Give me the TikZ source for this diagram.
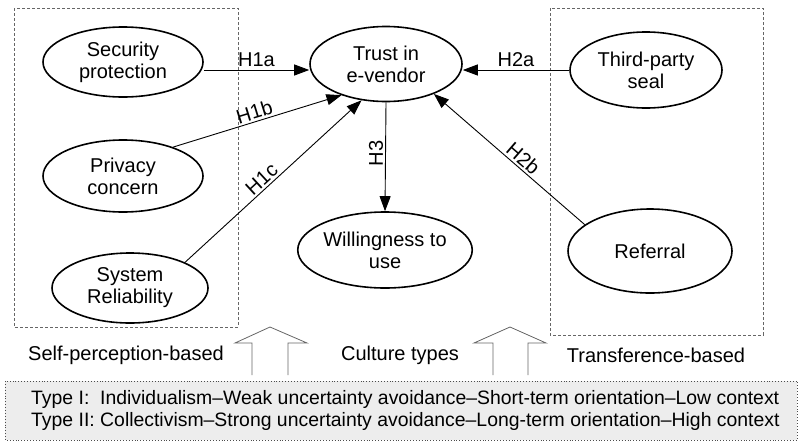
\documentclass[tikz,border=0pt]{standalone}
\usepackage{fontspec}
\setmainfont{Liberation Sans}
\usetikzlibrary{arrows.meta,shapes.geometric}
\begin{document}
\begin{tikzpicture}[x=1pt,y=-1pt,
  font=\fontsize{20}{22}\selectfont,
  ell/.style={draw,line width=1.6pt,ellipse,minimum width=#1,align=center,inner sep=0pt},
  ell/.default=155,
  arr/.style={line width=0.9pt,-{Triangle[length=15pt,width=11pt]}},
  grp/.style={draw=black!60,dashed,dash pattern=on 3pt off 2pt,line width=0.8pt},
  blk/.style={draw=black!60,line width=0.8pt,fill=white}]
\useasboundingbox (0,0) rectangle (802,442);
% groups
\draw[grp] (14,8) rectangle (238,327);
\draw[grp] (550,8) rectangle (763,335);
% nodes
\node[ell=160,minimum height=70] (sec) at (123,62) {Security\\protection};
\node[ell=160,minimum height=72] (priv) at (123,176) {Privacy\\concern};
\node[ell=156,minimum height=70] (sys) at (130,288) {System\\Reliability};
\node[ell=152,minimum height=75] (trust) at (386,64) {Trust in\\e-vendor};
\node[ell=156,minimum height=76] (will) at (385,250) {Willingness to\\use};
\node[ell=152,minimum height=76] (seal) at (646,70) {Third-party\\seal};
\node[ell=164,minimum height=84] (ref) at (650,251) {Referral};
% arrows
\draw[arr] (sec.east |- 0,70) -- node[above,pos=0.5] {H1a} (trust.west |- 0,70);
\draw[arr] (priv.30) -- node[above,sloped,pos=0.5,inner sep=2pt] {H1b} (trust.215);
\draw[arr] (sys.25) -- node[above,sloped,pos=0.47,inner sep=2pt] {H1c} (trust.236);
\draw[arr] (trust.south) -- node[above,sloped,pos=0.47,inner sep=2pt] {H3} (will.north);
\draw[arr] (seal.west) -- node[above,pos=0.5] {H2a} (trust.east |- seal.west);
\draw[arr] (ref.158) -- node[above,sloped,pos=0.45,inner sep=2pt] {H2b} (trust.328);
% labels
\node (lself) at (126,355) {Self-perception-based};
\node (lcult) at (400,355) {Culture types};
\node (ltrans) at (656,355) {Transference-based};
% block arrows
\draw[blk] (252,375) -- (252,343) -- (235,343) -- (270,327) -- (307,343) -- (288,343) -- (288,375);
\draw[blk] (493,375) -- (493,343) -- (474,343) -- (510,327) -- (546,343) -- (528,343) -- (528,375);
% bottom box
\draw[draw=black!70,fill=black!7,dotted,line width=0.9pt] (5,381) rectangle (797,440);
\node[anchor=west,inner sep=0pt,align=left,font=\fontsize{19.4}{22}\selectfont] (types) at (31,411) {%
  \begin{tabular}{@{}l@{\ }l@{}}
  Type I: & Individualism--Weak uncertainty avoidance--Short-term orientation--Low context\\
  Type II: & Collectivism--Strong uncertainty avoidance--Long-term orientation--High context
  \end{tabular}};
\end{tikzpicture}
\end{document}
